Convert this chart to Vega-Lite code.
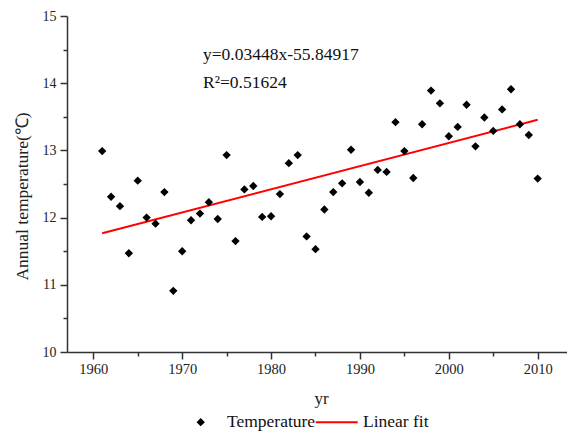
{
  "$schema": "https://vega.github.io/schema/vega-lite/v6.json",
  "autosize": "none",
  "width": 500,
  "height": 336,
  "padding": {"left": 67, "top": 16, "right": 0, "bottom": 80},
  "background": "white",
  "config": {
    "view": {"stroke": null},
    "font": "Liberation Serif",
    "axis": {
      "grid": false,
      "domainColor": "#333333",
      "domainWidth": 1.5,
      "tickColor": "#333333",
      "tickWidth": 1.5,
      "labelFont": "Liberation Serif",
      "titleFont": "Liberation Serif",
      "labelColor": "#222222",
      "titleColor": "#222222",
      "titleFontWeight": "normal"
    }
  },
  "datasets": {
    "temps": [
      {"year": 1961, "temp": 12.99, "series": "Temperature"},
      {"year": 1962, "temp": 12.31, "series": "Temperature"},
      {"year": 1963, "temp": 12.17, "series": "Temperature"},
      {"year": 1964, "temp": 11.47, "series": "Temperature"},
      {"year": 1965, "temp": 12.55, "series": "Temperature"},
      {"year": 1966, "temp": 12.0, "series": "Temperature"},
      {"year": 1967, "temp": 11.91, "series": "Temperature"},
      {"year": 1968, "temp": 12.38, "series": "Temperature"},
      {"year": 1969, "temp": 10.91, "series": "Temperature"},
      {"year": 1970, "temp": 11.5, "series": "Temperature"},
      {"year": 1971, "temp": 11.96, "series": "Temperature"},
      {"year": 1972, "temp": 12.06, "series": "Temperature"},
      {"year": 1973, "temp": 12.23, "series": "Temperature"},
      {"year": 1974, "temp": 11.98, "series": "Temperature"},
      {"year": 1975, "temp": 12.93, "series": "Temperature"},
      {"year": 1976, "temp": 11.65, "series": "Temperature"},
      {"year": 1977, "temp": 12.42, "series": "Temperature"},
      {"year": 1978, "temp": 12.47, "series": "Temperature"},
      {"year": 1979, "temp": 12.01, "series": "Temperature"},
      {"year": 1980, "temp": 12.02, "series": "Temperature"},
      {"year": 1981, "temp": 12.35, "series": "Temperature"},
      {"year": 1982, "temp": 12.81, "series": "Temperature"},
      {"year": 1983, "temp": 12.93, "series": "Temperature"},
      {"year": 1984, "temp": 11.72, "series": "Temperature"},
      {"year": 1985, "temp": 11.53, "series": "Temperature"},
      {"year": 1986, "temp": 12.12, "series": "Temperature"},
      {"year": 1987, "temp": 12.38, "series": "Temperature"},
      {"year": 1988, "temp": 12.51, "series": "Temperature"},
      {"year": 1989, "temp": 13.01, "series": "Temperature"},
      {"year": 1990, "temp": 12.53, "series": "Temperature"},
      {"year": 1991, "temp": 12.37, "series": "Temperature"},
      {"year": 1992, "temp": 12.71, "series": "Temperature"},
      {"year": 1993, "temp": 12.68, "series": "Temperature"},
      {"year": 1994, "temp": 13.42, "series": "Temperature"},
      {"year": 1995, "temp": 12.99, "series": "Temperature"},
      {"year": 1996, "temp": 12.59, "series": "Temperature"},
      {"year": 1997, "temp": 13.39, "series": "Temperature"},
      {"year": 1998, "temp": 13.89, "series": "Temperature"},
      {"year": 1999, "temp": 13.7, "series": "Temperature"},
      {"year": 2000, "temp": 13.21, "series": "Temperature"},
      {"year": 2001, "temp": 13.35, "series": "Temperature"},
      {"year": 2002, "temp": 13.68, "series": "Temperature"},
      {"year": 2003, "temp": 13.06, "series": "Temperature"},
      {"year": 2004, "temp": 13.49, "series": "Temperature"},
      {"year": 2005, "temp": 13.29, "series": "Temperature"},
      {"year": 2006, "temp": 13.61, "series": "Temperature"},
      {"year": 2007, "temp": 13.91, "series": "Temperature"},
      {"year": 2008, "temp": 13.39, "series": "Temperature"},
      {"year": 2009, "temp": 13.23, "series": "Temperature"},
      {"year": 2010, "temp": 12.58, "series": "Temperature"}
    ],
    "fit": [
      {"year": 1961, "temp": 11.766, "series": "Linear fit"},
      {"year": 2010, "temp": 13.455, "series": "Linear fit"}
    ],
    "notes": [
      {"year": 1972.34, "temp": 14.345, "label": "y=0.03448x-55.84917"},
      {"year": 1972.34, "temp": 13.935, "label": "R²=0.51624"}
    ]
  },
  "encoding": {
    "x": {
      "field": "year",
      "type": "quantitative",
      "scale": {"domain": [1957.04, 2013.3], "nice": false, "zero": false},
      "axis": {
        "title": "yr",
        "titleFontSize": 17,
        "titleX": 254,
        "titleY": 51,
        "titleBaseline": "alphabetic",
        "values": [1960, 1965, 1970, 1975, 1980, 1985, 1990, 1995, 2000, 2005, 2010],
        "labelExpr": "datum.value % 10 === 0 ? '' + datum.value : ''",
        "labelFontSize": 14.5,
        "labelPadding": 3,
        "tickSize": {"condition": {"test": "datum.value % 10 === 0", "value": 7}, "value": 4}
      }
    },
    "y": {
      "field": "temp",
      "type": "quantitative",
      "scale": {"domain": [10, 15], "nice": false, "zero": false},
      "axis": {
        "title": "Annual temperature(℃)",
        "titleFontSize": 17.5,
        "titleX": -45,
        "titleY": 180,
        "titleBaseline": "middle",
        "values": [10, 10.5, 11, 11.5, 12, 12.5, 13, 13.5, 14, 14.5, 15],
        "labelExpr": "datum.value % 1 === 0 ? '' + datum.value : ''",
        "labelFontSize": 14,
        "labelPadding": 4,
        "tickSize": {"condition": {"test": "datum.value % 1 === 0", "value": 7}, "value": 4}
      }
    }
  },
  "layer": [
    {
      "data": {"name": "fit"},
      "mark": {"type": "line", "strokeWidth": 2},
      "encoding": {
        "color": {
          "field": "series",
          "type": "nominal",
          "scale": {"domain": ["Temperature", "Linear fit"], "range": ["black", "red"]},
          "legend": {
            "title": null,
            "orient": "none",
            "direction": "horizontal",
            "legendX": 112.7,
            "legendY": 397,
            "padding": 0,
            "columnPadding": -5.5,
            "symbolOffset": 12.25,
            "labelOffset": 17.5,
            "labelFont": "Liberation Serif",
            "labelFontSize": 17.5,
            "labelColor": "#111111",
            "symbolSize": 70,
            "symbolStrokeWidth": 0,
            "encode": {
              "symbols": {
                "update": {
                  "shape": {"signal": "datum.value === 'Temperature' ? 'diamond' : 'stroke'"},
                  "size": {"signal": "datum.value === 'Temperature' ? 70 : 1764"},
                  "fill": {"signal": "datum.value === 'Temperature' ? 'black' : 'transparent'"},
                  "stroke": {"signal": "datum.value === 'Temperature' ? 'black' : 'red'"},
                  "strokeWidth": {"signal": "datum.value === 'Temperature' ? 0 : 2"},
                  "opacity": {"value": 1}
                }
              }
            }
          }
        }
      }
    },
    {
      "data": {"name": "temps"},
      "mark": {"type": "point", "shape": "diamond", "filled": true, "size": 70, "opacity": 1, "strokeWidth": 0},
      "encoding": {
        "color": {"field": "series", "type": "nominal"}
      }
    },
    {
      "data": {"name": "notes"},
      "mark": {"type": "text", "align": "left", "baseline": "alphabetic", "font": "Liberation Serif", "fontSize": 17.5, "color": "#111111"},
      "encoding": {
        "text": {"field": "label"}
      }
    }
  ]
}
